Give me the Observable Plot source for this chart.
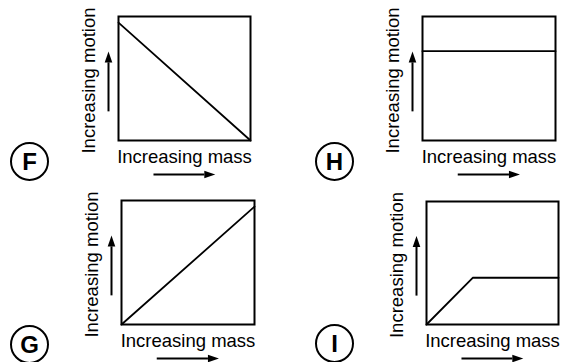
<!DOCTYPE html>
<html>
<head>
<meta charset="utf-8">
<script src="https://cdn.jsdelivr.net/npm/d3@7"></script>
<script src="https://cdn.jsdelivr.net/npm/@observablehq/plot@0.6"></script>
<style>
  html, body { margin: 0; padding: 0; background: #fff; }
  #chart { position: relative; width: 573px; height: 362px; overflow: hidden; }
  #chart > svg { position: absolute; left: 0; top: 0; }
</style>
</head>
<body>
<div id="chart"></div>
<script>
// ---- data ----
const panelLetters = ["F", "H", "G", "I"];
const xAxisLabel = "Increasing mass";
const yAxisLabel = "Increasing motion";
// curve points (x = relative mass, y = relative motion), one pair of arrays per panel
const fX = [0, 1];          const fY = [0.95, 0];
const hX = [0, 1];          const hY = [0.72, 0.72];
const gX = [0, 1];          const gY = [0, 0.95];
const iX = [0, 0.35, 1];    const iY = [0, 0.38, 0.38];
// arrow extents along each axis (fraction of the box)
const xArrow = [0.265, 0.65];
const yArrow = [0.235, 0.63];

// ---- layout (pixels) ----
const W = 573, H = 362;
const layout = {
  F: {box: [118, 250, 16, 140], xs: fX, ys: fY, circ: [-89, 21]},
  H: {box: [422, 555, 16, 140], xs: hX, ys: hY, circ: [-88, 21]},
  G: {box: [121, 254, 200, 324], xs: gX, ys: gY, circ: [-92, 20]},
  I: {box: [426, 558, 201, 324], xs: iX, ys: iY, circ: [-92, 19]}
};
const font = "'Liberation Sans', Arial, Helvetica, sans-serif";

// filled arrow heads: base centred at the point, tip beyond it
const headUp = {draw(ctx) { ctx.moveTo(0, -11); ctx.lineTo(3.8, 0); ctx.lineTo(-3.8, 0); ctx.closePath(); }};
const headRight = {draw(ctx) { ctx.moveTo(11, 0); ctx.lineTo(0, 3.8); ctx.lineTo(0, -3.8); ctx.closePath(); }};

const chart = document.getElementById("chart");
for (const letter of panelLetters) {
  const p = layout[letter];
  const [L, R, T, B] = p.box;
  const curve = p.xs.map((x, i) => ({x, y: p.ys[i]}));
  const svg = Plot.plot({
    width: W, height: H,
    marginLeft: L, marginRight: W - R, marginTop: T, marginBottom: H - B,
    x: {domain: [0, 1], axis: null},
    y: {domain: [0, 1], axis: null},
    style: {background: "transparent", fontFamily: font, color: "black", overflow: "visible"},
    marks: [
      Plot.frame({stroke: "black", strokeWidth: 2}),
      Plot.line(curve, {x: "x", y: "y", stroke: "black", strokeWidth: 1.8}),
      // y axis label + arrow
      Plot.text([yAxisLabel], {x: () => 0, y: () => 0.5, rotate: -90, dx: -29, dy: 2,
        lineAnchor: "middle", textAnchor: "middle", fontSize: 18.5, fill: "black"}),
      Plot.link([0], {x1: () => 0, x2: () => 0, y1: () => yArrow[0], y2: () => yArrow[1],
        dx: -10, stroke: "black", strokeWidth: 2}),
      Plot.dot([0], {x: () => 0, y: () => yArrow[1], dx: -10, symbol: headUp, fill: "black", stroke: "none"}),
      // x axis label + arrow
      Plot.text([xAxisLabel], {x: () => 0.5, y: () => 0, dy: 17, lineAnchor: "middle",
        textAnchor: "middle", fontSize: 18.5, fill: "black"}),
      Plot.link([0], {x1: () => xArrow[0], x2: () => xArrow[1], y1: () => 0, y2: () => 0,
        dy: 34, stroke: "black", strokeWidth: 2}),
      Plot.dot([0], {x: () => xArrow[1], y: () => 0, dy: 34, symbol: headRight, fill: "black", stroke: "none"}),
      // circled panel letter
      Plot.dot([0], {x: () => 0, y: () => 0, dx: p.circ[0], dy: p.circ[1], r: 18.5,
        fill: "none", stroke: "black", strokeWidth: 2}),
      Plot.text([letter], {x: () => 0, y: () => 0, dx: p.circ[0], dy: p.circ[1] + 1,
        lineAnchor: "middle", textAnchor: "middle", fontSize: 24, fontWeight: "bold", fill: "black"})
    ]
  });
  chart.appendChild(svg);
}
</script>
</body>
</html>
